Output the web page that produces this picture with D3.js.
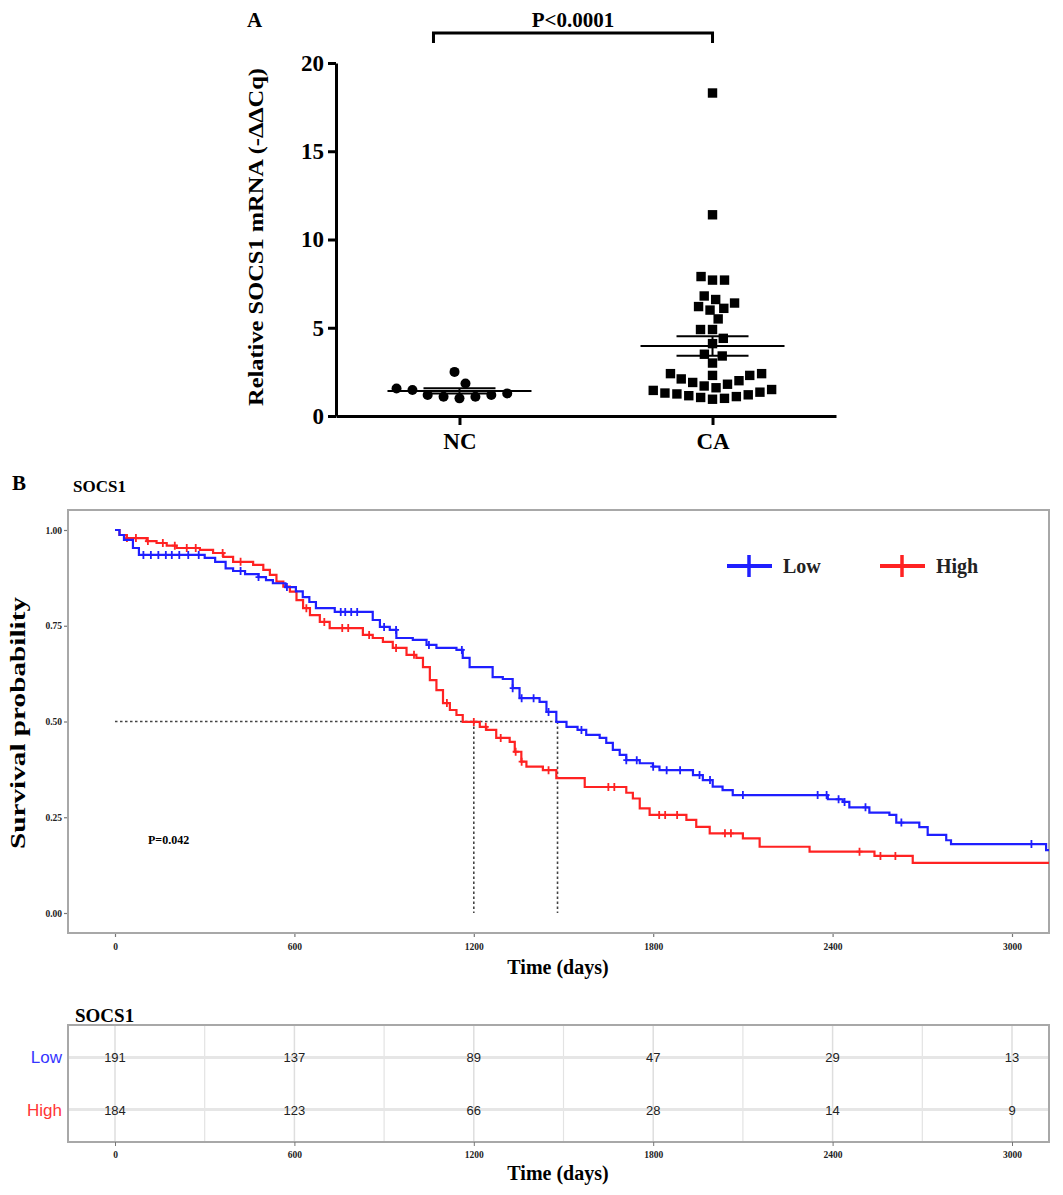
<!DOCTYPE html>
<html lang="en">
<meta charset="utf-8">
<head>
    <script src="https://d3js.org/d3.v7.min.js"></script>
    <style>
        body { margin: 0; background: #fff; }
        text { font-family: "Liberation Serif", "Times New Roman", serif; font-weight: bold; }
        .sans { font-family: "Liberation Sans Narrow", "Liberation Sans", Arial, sans-serif; font-weight: normal; }
    </style>
</head>
<body>
<div id="chart"></div>
<script>
// ---- Panel A data ----
const groups = ['NC', 'CA'];
const ncValues = [1.84, 1.47, 1.19, 1.09, 2.5, 1.0, 1.09, 1.19, 1.28, 1.56];
const caValues = [18.3, 11.4, 7.7, 7.7, 7.9, 6.6, 6.8, 6.2, 6.0, 6.1, 6.4, 5.5, 4.9, 4.9,
    4.1, 4.4, 3.4, 3.5, 3.0, 2.4, 2.3, 2.1, 2.0, 2.3, 2.4, 1.9,
    1.8, 1.6, 1.45, 1.3, 1.2, 1.1, 1.0, 0.95, 1.05, 1.15, 1.25, 1.35, 1.5, 1.7];
const yTicksA = [0, 5, 10, 15, 20];
const pTextA = 'P<0.0001';

// ---- Panel B data (Kaplan-Meier) ----
const lowTime = [0, 15, 30, 60, 80, 300, 335, 370, 395, 435, 480, 505, 528, 570, 605, 628, 650, 672, 735,
    862, 886, 919, 941, 996, 1042, 1075, 1142, 1163, 1186, 1263, 1297, 1330, 1353, 1420, 1443, 1476,
    1510, 1547, 1576, 1621, 1643, 1665, 1688, 1710, 1755, 1799, 1821, 1933, 1966, 1999, 2032, 2066,
    2384, 2434, 2456, 2523, 2590, 2613, 2690, 2718, 2780, 2796, 3114];
const lowSurv = [1.0, 0.987, 0.974, 0.953, 0.935, 0.927, 0.917, 0.90, 0.893, 0.885, 0.877, 0.869, 0.861, 0.851, 0.84, 0.825, 0.812, 0.796, 0.786,
    0.765, 0.747, 0.739, 0.718, 0.713, 0.70, 0.692, 0.687, 0.666, 0.642, 0.616, 0.611, 0.587, 0.561, 0.551, 0.525, 0.499,
    0.486, 0.478, 0.465, 0.457, 0.444, 0.426, 0.413, 0.399, 0.391, 0.382, 0.373, 0.36, 0.347, 0.33, 0.321, 0.308,
    0.297, 0.29, 0.276, 0.262, 0.256, 0.236, 0.224, 0.204, 0.19, 0.18, 0.164];
const highTime = [0, 15, 39, 106, 139, 173, 206, 284, 328, 362, 395, 462, 496, 518, 540, 563, 585, 607, 629, 652, 685, 718,
    829, 862, 896, 929, 975, 1008, 1030, 1053, 1075, 1097, 1120, 1142, 1163, 1220, 1242, 1275, 1320, 1337, 1359, 1376,
    1431, 1476, 1571, 1710, 1732, 1755, 1788, 1911, 1944, 1989, 2100, 2156, 2323, 2540, 2668];
const highSurv = [1.0, 0.987, 0.979, 0.971, 0.966, 0.959, 0.953, 0.948, 0.94, 0.93, 0.917, 0.909, 0.896, 0.883, 0.865, 0.852, 0.839, 0.817, 0.796, 0.778, 0.76, 0.744,
    0.726, 0.718, 0.708, 0.692, 0.674, 0.666, 0.642, 0.608, 0.582, 0.548, 0.53, 0.517, 0.499, 0.486, 0.478, 0.457, 0.447, 0.421, 0.395, 0.382,
    0.373, 0.352, 0.329, 0.314, 0.299, 0.273, 0.256, 0.243, 0.225, 0.208, 0.195, 0.173, 0.16, 0.149, 0.131];
const lowCensor = [95, 120, 145, 170, 190, 215, 245, 280, 420, 480, 575, 755, 770, 790, 810, 900, 940, 1050,
    1160, 1330, 1360, 1400, 1450, 1560, 1710, 1745, 1800, 1845, 1890, 1955, 1990, 2100, 2350, 2380, 2420, 2440, 2510, 2630, 3065];
const highCensor = [40, 70, 110, 160, 200, 240, 270, 360, 420, 640, 700, 760, 780, 850, 940, 1000, 1110, 1200,
    1240, 1290, 1340, 1360, 1450, 1650, 1670, 1820, 1840, 1880, 2040, 2060, 2490, 2560, 2610];
const medianTimes = [1200, 1480];
const kmXTicks = [0, 600, 1200, 1800, 2400, 3000];
const kmYTicks = [0, 0.25, 0.5, 0.75, 1];
const pTextB = 'P=0.042';
const strata = ['Low', 'High'];
const riskLow = [191, 137, 89, 47, 29, 13];
const riskHigh = [184, 123, 66, 28, 14, 9];
const blue = '#1f1fff', red = '#ff2222';

const svg = d3.select('#chart').append('svg')
    .attr('width', 1063).attr('height', 1195)
    .style('background', '#fff');

// ================= Panel A =================
const yA = d3.scaleLinear().domain([0, 20]).range([416, 63]);
const xA = d3.scalePoint().domain(groups).range([336, 836]).padding(0.488);

svg.append('text').attr('x', 247).attr('y', 27).attr('font-size', 21).text('A');

const gA = svg.append('g');
const yAxisA = gA.append('g').attr('transform', 'translate(336,0)')
    .call(d3.axisLeft(yA).tickValues(yTicksA).tickSize(8).tickSizeOuter(0).tickPadding(4));
const xAxisA = gA.append('g').attr('transform', 'translate(0,416)')
    .call(d3.axisBottom(xA).tickSize(9).tickSizeOuter(0).tickPadding(8));
[yAxisA, xAxisA].forEach(a => {
    a.selectAll('path, line').attr('stroke', '#000').attr('stroke-width', 3);
    a.selectAll('text').attr('font-size', 23).attr('font-family', 'Liberation Serif').attr('font-weight', 'bold').attr('fill', '#000');
});

svg.append('text')
    .attr('transform', 'translate(263,237) rotate(-90)')
    .attr('text-anchor', 'middle').attr('font-size', 21)
    .attr('textLength', 338).attr('lengthAdjust', 'spacingAndGlyphs')
    .text('Relative SOCS1 mRNA (-ΔΔCq)');

// significance bracket
const bx0 = xA('NC') - 26, bx1 = xA('CA');
svg.append('path')
    .attr('d', `M${bx0},43V33H${bx1}V43`)
    .attr('fill', 'none').attr('stroke', '#000').attr('stroke-width', 3);
svg.append('text').attr('x', (bx0 + bx1) / 2).attr('y', 27)
    .attr('text-anchor', 'middle').attr('font-size', 21).text(pTextA);

// simple beeswarm
function swarm(values, D) {
    const pts = values.map(v => ({ v, y: yA(v) })).sort((a, b) => a.v - b.v);
    const placed = [];
    pts.forEach(p => {
        const cand = [0];
        placed.forEach(q => {
            const dy = p.y - q.y;
            if (Math.abs(dy) < D) {
                const dx = Math.sqrt(D * D - dy * dy);
                cand.push(q.x + dx, q.x - dx);
            }
        });
        cand.sort((a, b) => Math.abs(a) - Math.abs(b));
        for (const c of cand) {
            const ok = placed.every(q => (c - q.x) ** 2 + (p.y - q.y) ** 2 >= D * D - 0.01);
            if (ok) { p.x = c; break; }
        }
        placed.push(p);
    });
    return placed;
}

const ncPts = swarm(ncValues, 16);
svg.append('g').selectAll('circle').data(ncPts).join('circle')
    .attr('cx', d => xA('NC') + d.x).attr('cy', d => d.y).attr('r', 5).attr('fill', '#000');

const caPts = swarm(caValues, 12);
svg.append('g').selectAll('rect').data(caPts).join('rect')
    .attr('x', d => xA('CA') + d.x - 4.7).attr('y', d => d.y - 4.7)
    .attr('width', 9.4).attr('height', 9.4).attr('fill', '#000');

// mean +- SEM lines
function meanSem(vals) {
    const m = d3.mean(vals);
    return [m, d3.deviation(vals) / Math.sqrt(vals.length)];
}
[['NC', ncValues], ['CA', caValues]].forEach(([g, vals]) => {
    const [m, s] = meanSem(vals);
    const cx = xA(g);
    const gg = svg.append('g').attr('stroke', '#000').attr('stroke-width', 2).attr('fill', 'none');
    gg.append('line').attr('x1', cx - 72).attr('x2', cx + 72).attr('y1', yA(m)).attr('y2', yA(m));
    gg.append('line').attr('x1', cx - 36).attr('x2', cx + 36).attr('y1', yA(m + s)).attr('y2', yA(m + s));
    gg.append('line').attr('x1', cx - 36).attr('x2', cx + 36).attr('y1', yA(m - s)).attr('y2', yA(m - s));
    gg.append('line').attr('x1', cx).attr('x2', cx).attr('y1', yA(m + s)).attr('y2', yA(m - s));
});

// ================= Panel B =================
const boxL = 68, boxR = 1049, boxT = 510, boxB = 933;
const kmX = d3.scaleLinear().domain([0, 3000]).range([115, 1012]);
const kmY = d3.scaleLinear().domain([0, 1]).range([913, 530]);
const tEnd = kmX.invert(boxR);

svg.append('text').attr('x', 12).attr('y', 490).attr('font-size', 21).text('B');
svg.append('text').attr('x', 73).attr('y', 492).attr('font-size', 17).text('SOCS1');

svg.append('defs').append('clipPath').attr('id', 'kmclip')
    .append('rect').attr('x', boxL).attr('y', boxT).attr('width', boxR - boxL).attr('height', boxB - boxT);

const kmYAxis = svg.append('g').attr('transform', `translate(${boxL},0)`)
    .call(d3.axisLeft(kmY).tickValues(kmYTicks).tickFormat(d3.format('.2f')).tickSize(4).tickPadding(2));
const kmXAxis = svg.append('g').attr('transform', `translate(0,${boxB})`)
    .call(d3.axisBottom(kmX).tickValues(kmXTicks).tickFormat(d3.format('d')).tickSize(4).tickPadding(6));
[kmYAxis, kmXAxis].forEach(a => {
    a.select('.domain').remove();
    a.selectAll('line').attr('stroke', '#777').attr('stroke-width', 1.2);
    a.selectAll('text').attr('font-size', 9.5).attr('font-family', 'Liberation Serif')
        .attr('font-weight', 'bold').attr('fill', '#222');
});

svg.append('rect').attr('x', boxL).attr('y', boxT).attr('width', boxR - boxL).attr('height', boxB - boxT)
    .attr('fill', 'none').attr('stroke', '#a8a8a8').attr('stroke-width', 2);

svg.append('text').attr('transform', 'translate(25,723) rotate(-90)')
    .attr('text-anchor', 'middle').attr('font-size', 21)
    .attr('textLength', 252).attr('lengthAdjust', 'spacingAndGlyphs')
    .text('Survival probability');
svg.append('text').attr('x', 558).attr('y', 974)
    .attr('text-anchor', 'middle').attr('font-size', 20).text('Time (days)');

// median reference lines
const dotted = svg.append('g').attr('stroke', '#444').attr('stroke-width', 1.6)
    .attr('stroke-dasharray', '2.5,2.5').attr('fill', 'none');
dotted.append('line').attr('x1', kmX(0)).attr('x2', kmX(d3.max(medianTimes)))
    .attr('y1', kmY(0.5)).attr('y2', kmY(0.5));
medianTimes.forEach(t => {
    dotted.append('line').attr('x1', kmX(t)).attr('x2', kmX(t))
        .attr('y1', kmY(0.5)).attr('y2', kmY(0));
});

const curves = [
    { name: 'High', time: highTime, surv: highSurv, censor: highCensor, color: red },
    { name: 'Low', time: lowTime, surv: lowSurv, censor: lowCensor, color: blue }
];
const stepLine = d3.line().x(d => kmX(d[0])).y(d => kmY(d[1])).curve(d3.curveStepAfter);
const kmG = svg.append('g').attr('clip-path', 'url(#kmclip)');
curves.forEach(c => {
    const pts = c.time.map((t, i) => [t, c.surv[i]]);
    pts.push([tEnd, c.surv[c.surv.length - 1]]);
    kmG.append('path').datum(pts)
        .attr('d', stepLine).attr('fill', 'none')
        .attr('stroke', c.color).attr('stroke-width', 2.2);
    const survAt = t => c.surv[d3.bisectRight(c.time, t) - 1];
    kmG.append('g').selectAll('path').data(c.censor).join('path')
        .attr('d', t => {
            const x = kmX(t), y = kmY(survAt(t));
            return `M${x},${y - 4}V${y + 4}M${x - 3},${y}H${x + 3}`;
        })
        .attr('stroke', c.color).attr('stroke-width', 1.8);
});

svg.append('text').attr('x', 148).attr('y', 844).attr('font-size', 12).text(pTextB);

// legend
const legend = [{ name: 'Low', color: blue, x: 727 }, { name: 'High', color: red, x: 880 }];
legend.forEach(l => {
    const g = svg.append('g').attr('transform', `translate(${l.x},566)`);
    g.append('line').attr('x1', 0).attr('x2', 45).attr('y1', 0).attr('y2', 0)
        .attr('stroke', l.color).attr('stroke-width', 4);
    g.append('line').attr('x1', 22).attr('x2', 22).attr('y1', -11).attr('y2', 11)
        .attr('stroke', l.color).attr('stroke-width', 3.5);
    g.append('text').attr('x', 56).attr('y', 7).attr('font-size', 20).attr('fill', '#222').text(l.name);
});

// ================= Risk table =================
const rT = 1025, rB = 1142;
const rY = d3.scalePoint().domain(strata).range([rT, rB]).padding(0.62);
svg.append('text').attr('x', 75).attr('y', 1022).attr('font-size', 19).text('SOCS1');

const gridG = svg.append('g');
const minorTicks = d3.range(300, 3000, 600);
gridG.selectAll('.minor').data(minorTicks).join('line')
    .attr('x1', d => kmX(d)).attr('x2', d => kmX(d)).attr('y1', rT).attr('y2', rB)
    .attr('stroke', '#e3e3e3').attr('stroke-width', 1.2);
gridG.selectAll('.major').data(kmXTicks).join('line')
    .attr('x1', d => kmX(d)).attr('x2', d => kmX(d)).attr('y1', rT).attr('y2', rB)
    .attr('stroke', '#dedede').attr('stroke-width', 1.5);
gridG.selectAll('.row').data(strata).join('line')
    .attr('x1', boxL).attr('x2', boxR).attr('y1', d => rY(d)).attr('y2', d => rY(d))
    .attr('stroke', '#e6e6e6').attr('stroke-width', 3);
svg.append('rect').attr('x', boxL).attr('y', rT).attr('width', boxR - boxL).attr('height', rB - rT)
    .attr('fill', 'none').attr('stroke', '#a8a8a8').attr('stroke-width', 2);

const riskRows = [{ name: 'Low', vals: riskLow, color: '#3535ff' }, { name: 'High', vals: riskHigh, color: '#ff3535' }];
riskRows.forEach(r => {
    svg.append('g').selectAll('text').data(r.vals).join('text')
        .attr('class', 'sans')
        .attr('x', (d, i) => kmX(kmXTicks[i])).attr('y', rY(r.name) + 5)
        .attr('text-anchor', 'middle').attr('font-size', 13).attr('fill', '#222')
        .text(d => d);
    svg.append('text').attr('class', 'sans')
        .attr('x', 62).attr('y', rY(r.name) + 6)
        .attr('text-anchor', 'end').attr('font-size', 17).attr('fill', r.color)
        .text(r.name);
});

const rXAxis = svg.append('g').attr('transform', `translate(0,${rB})`)
    .call(d3.axisBottom(kmX).tickValues(kmXTicks).tickFormat(d3.format('d')).tickSize(4).tickPadding(5));
rXAxis.select('.domain').remove();
rXAxis.selectAll('line').attr('stroke', '#777');
rXAxis.selectAll('text').attr('font-size', 9.5).attr('font-family', 'Liberation Serif')
    .attr('font-weight', 'bold').attr('fill', '#222');
svg.append('text').attr('x', 558).attr('y', 1180)
    .attr('text-anchor', 'middle').attr('font-size', 20).text('Time (days)');
</script>
</body>
</html>
